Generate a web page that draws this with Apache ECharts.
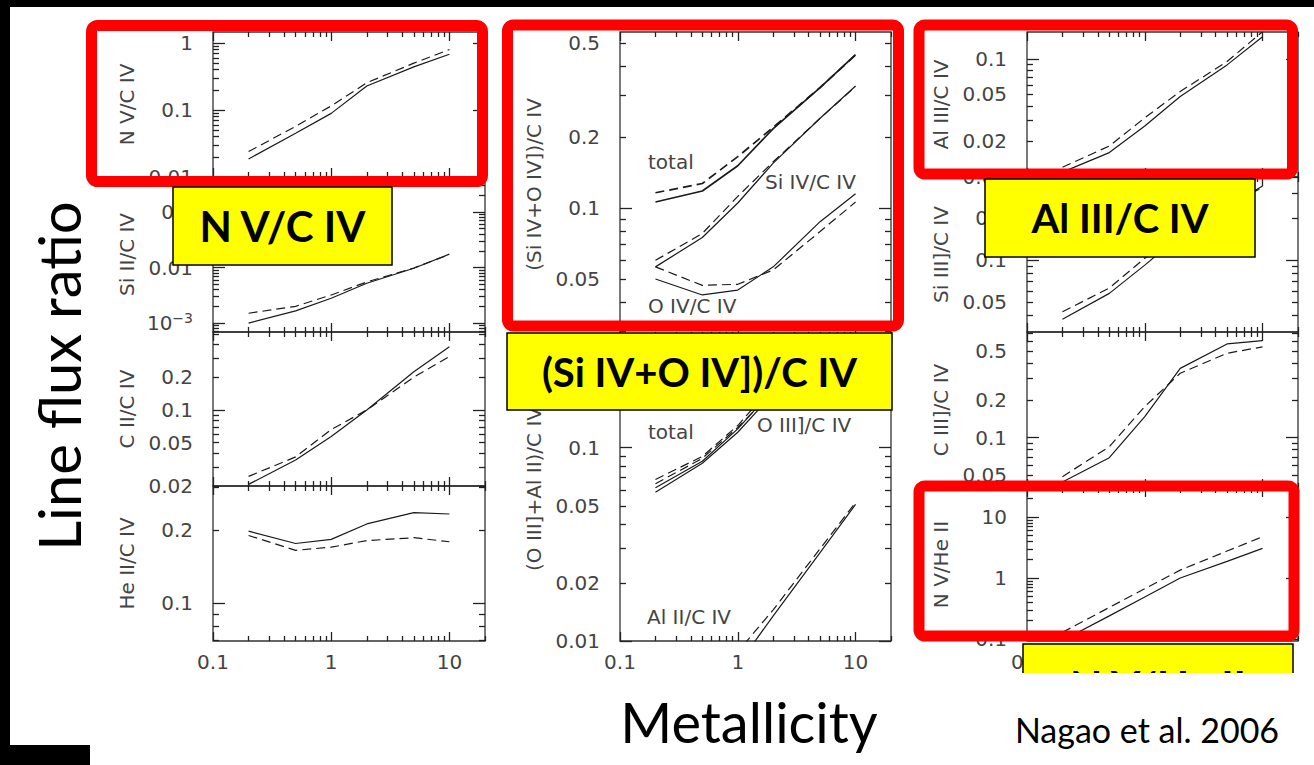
<!DOCTYPE html>
<html><head><meta charset="utf-8">
<script src="https://cdn.jsdelivr.net/npm/echarts@6/dist/echarts.min.js"></script>
<style>html,body{margin:0;padding:0;background:#fff}#c{width:1314px;height:765px}</style>
</head><body><div id="c"></div>
<script>
// ---------------- DATA ----------------
const metallicity = [0.2, 0.5, 1, 2, 5, 10];
const xTickLabels = [0.1, 1, 10];
const xTickLabelsHidden = [0.1];   // col 3: only "0.1" peeks out from behind the yellow box

// column 1
const nvCivSolid = [0.0186, 0.045, 0.089, 0.228, 0.44, 0.68];
const nvCivDashed = [0.024, 0.057, 0.115, 0.255, 0.5, 0.8];
const siiCivSolid = [0.001, 0.00166, 0.0028, 0.0052, 0.0097, 0.0174];
const siiCivDashed = [0.0015, 0.002, 0.0032, 0.0055, 0.0098, 0.0172];
const ciiCivSolid = [0.0207, 0.0347, 0.057, 0.1, 0.224, 0.38];
const ciiCivDashed = [0.0245, 0.037, 0.066, 0.1, 0.2, 0.31];
const heiiCivSolid = [0.198, 0.176, 0.183, 0.212, 0.236, 0.233];
const heiiCivDashed = [0.19, 0.165, 0.17, 0.181, 0.186, 0.179];
// column 2
const totalSiOSolid = [0.106, 0.118, 0.151, 0.217, 0.324, 0.447];
const totalSiODashed = [0.116, 0.127, 0.165, 0.22, 0.324, 0.445];
const sivCivSolid = [0.0563, 0.075, 0.105, 0.155, 0.24, 0.329];
const sivCivDashed = [0.06, 0.078, 0.112, 0.157, 0.24, 0.327];
const oivCivSolid = [0.05, 0.0428, 0.0449, 0.0563, 0.0875, 0.115];
const oivCivDashed = [0.0563, 0.047, 0.0475, 0.0546, 0.0795, 0.106];
const totalOAlSolid = [0.062, 0.085, 0.125, 0.2, 0.28, 0.34];
const totalOAlDashed = [0.0684, 0.09, 0.13, 0.21, 0.29, 0.35];
const oiiiCivSolid = [0.0588, 0.083, 0.12, 0.19, 0.25, 0.29];
const oiiiCivDashed = [0.065, 0.088, 0.127, 0.195, 0.26, 0.3];
const aliiCivSolid = [0.0008, 0.003, 0.0075, 0.0135, 0.0286, 0.0508];
const aliiCivDashed = [0.001, 0.0035, 0.0088, 0.0145, 0.03, 0.052];
// column 3
const aliiiCivSolid = [0.011, 0.0161, 0.027, 0.048, 0.089, 0.154];
const aliiiCivDashed = [0.0121, 0.0183, 0.0317, 0.053, 0.095, 0.17];
const siiiiCivSolid = [0.0376, 0.0577, 0.092, 0.15, 0.24, 0.34];
const siiiiCivDashed = [0.0426, 0.063, 0.103, 0.16, 0.25, 0.33];
const ciiiCivSolid = [0.044, 0.069, 0.148, 0.362, 0.57, 0.605];
const ciiiCivDashed = [0.0485, 0.0846, 0.178, 0.331, 0.479, 0.54];
const nvHeiiSolid = [0.095, 0.24, 0.49, 1.0, 1.88, 3.07];
const nvHeiiDashed = [0.129, 0.33, 0.67, 1.35, 2.77, 4.75];

// y tick labels
const nvCivTicks = [0.01, 0.1, 1];
const siiCivTicks = [0.001, 0.01, 0.1];
const ciiCivTicks = [0.02, 0.05, 0.1, 0.2];
const heiiCivTicks = [0.1, 0.2];
const sivOivTicks = [0.05, 0.1, 0.2, 0.5];
const oiiiAliiTicks = [0.01, 0.02, 0.05, 0.1, 0.2];
const aliiiCivTicks = [0.01, 0.02, 0.05, 0.1];
const siiiiCivTicks = [0.05, 0.1, 0.2];
const ciiiCivTicks = [0.05, 0.1, 0.2, 0.5];
const nvHeiiTicks = [0.1, 1, 10];

// ---------------- LAYOUT ----------------
const FONT = 'DejaVu Sans';
const AX = '#222222';
const LAB = '#444444';
const X_MIN = 0.1, X_MAX = 20;
const TICK = {yMajor: 12, yMinor: 6, xMajor: 9, xMinor: 5};
const panels = [
  {name:'N V/C IV', box:[213,32,272,145], yr:[0.01,1.46], labels:nvCivTicks, xl:[], lines:[nvCivSolid,nvCivDashed]},
  {name:'Si II/C IV', box:[213,177,272,155], yr:[0.00069,0.427], labels:siiCivTicks, xl:[], lines:[siiCivSolid,siiCivDashed]},
  {name:'C II/C IV', box:[213,332,272,154], yr:[0.02,0.52], labels:ciiCivTicks, xl:[], lines:[ciiCivSolid,ciiCivDashed]},
  {name:'He II/C IV', box:[213,486,272,155], yr:[0.0697,0.304], labels:heiiCivTicks, xl:xTickLabels, lines:[heiiCivSolid,heiiCivDashed]},
  {name:'(Si IV+O IV])/C IV', box:[620,32,271,305], yr:[0.0284,0.557], labels:sivOivTicks, xl:[],
    lines:[totalSiOSolid,totalSiODashed,sivCivSolid,sivCivDashed,oivCivSolid,oivCivDashed], thick:[1.7,1.7,1.2,1.2,1.2,1.2]},
  {name:'(O III]+Al II)/C IV', box:[620,337,271,304], yr:[0.01,0.373], labels:oiiiAliiTicks, xl:xTickLabels,
    lines:[totalOAlSolid,totalOAlDashed,oiiiCivSolid,oiiiCivDashed,aliiCivSolid,aliiCivDashed]},
  {name:'Al III/C IV', box:[1027,32,271,145], yr:[0.01,0.169], labels:aliiiCivTicks, xl:[], lines:[aliiiCivSolid,aliiiCivDashed]},
  {name:'Si III]/C IV', box:[1027,177,271,155], yr:[0.0305,0.394], labels:siiiiCivTicks, xl:[], lines:[siiiiCivSolid,siiiiCivDashed]},
  {name:'C III]/C IV', box:[1027,332,271,156], yr:[0.0393,0.711], labels:ciiiCivTicks, xl:[], lines:[ciiiCivSolid,ciiiCivDashed]},
  {name:'N V/He II', box:[1027,488,271,153], yr:[0.093,29.9], labels:nvHeiiTicks, xl:xTickLabelsHidden, lines:[nvHeiiSolid,nvHeiiDashed]}
];

function decadeTicks(min, max, major) {
  const out = [];
  for (let e = -5; e <= 3; e++) {
    for (let m = 1; m <= 9; m++) {
      if ((m === 1) !== major) continue;
      const v = Number((m * Math.pow(10, e)).toPrecision(6));
      if (v >= min * 0.9999 && v <= max * 1.0001) out.push(v);
    }
  }
  return out;
}
function fmt(v) {
  const s = Number((+v).toPrecision(4));
  if (Math.abs(s - 0.001) < 1e-12) return '{b|10}{s|\u22123}';
  return String(s);
}
const labelRich = {
  b: {fontFamily: FONT, fontSize: 20, color: LAB},
  s: {fontFamily: FONT, fontSize: 14, color: LAB, verticalAlign: 'top', padding: [0, 0, 10, 0]}
};

const grids = [], xAxes = [], yAxes = [], series = [];
const xExtra = [], yExtra = [];
function tickOnlyAxis(gi, min, max, pos, len, values) {
  return {
    type: 'log', gridIndex: gi, position: pos, min: min, max: max,
    axisLine: {show: false}, splitLine: {show: false},
    axisTick: {show: true, inside: true, length: len, customValues: values, lineStyle: {color: AX, width: 1.3}},
    axisLabel: {show: false}
  };
}
panels.forEach((p, gi) => {
  grids.push({left: p.box[0], top: p.box[1], width: p.box[2], height: p.box[3], show: true,
    borderColor: '#333333', borderWidth: 1.3});
  const xMaj = decadeTicks(X_MIN, X_MAX, true), xMin = decadeTicks(X_MIN, X_MAX, false);
  const yMaj = decadeTicks(p.yr[0], p.yr[1], true), yMin = decadeTicks(p.yr[0], p.yr[1], false);
  xAxes.push({
    type: 'log', gridIndex: gi, min: X_MIN, max: X_MAX,
    axisLine: {show: false}, splitLine: {show: false},
    axisTick: {show: true, inside: true, length: TICK.xMajor, customValues: xMaj, lineStyle: {color: AX, width: 1.3}},
    axisLabel: {show: p.xl.length > 0, customValues: p.xl.length ? p.xl : [X_MIN], margin: 11, fontFamily: FONT, fontSize: 20, color: LAB, formatter: fmt}
  });
  yAxes.push({
    type: 'log', gridIndex: gi, min: p.yr[0], max: p.yr[1],
    axisLine: {show: false}, splitLine: {show: false},
    axisTick: {show: true, inside: true, length: TICK.yMajor, customValues: yMaj, lineStyle: {color: AX, width: 1.3}},
    axisLabel: {show: true, customValues: p.labels, margin: 20, fontFamily: FONT, fontSize: 20, color: LAB, formatter: fmt, rich: labelRich},
    name: p.name, nameLocation: 'middle', nameGap: 76, nameRotate: 90, nameMoveOverlap: false,
    nameTextStyle: {fontFamily: FONT, fontSize: 20, color: LAB}
  });
  // extra tick-only axes: minor ticks and the mirrored top / right ticks
  xExtra.push(tickOnlyAxis(gi, X_MIN, X_MAX, 'bottom', TICK.xMinor, xMin));
  xExtra.push(tickOnlyAxis(gi, X_MIN, X_MAX, 'top', TICK.xMajor, xMaj));
  xExtra.push(tickOnlyAxis(gi, X_MIN, X_MAX, 'top', TICK.xMinor, xMin));
  yExtra.push(tickOnlyAxis(gi, p.yr[0], p.yr[1], 'left', TICK.yMinor, yMin));
  yExtra.push(tickOnlyAxis(gi, p.yr[0], p.yr[1], 'right', TICK.yMajor, yMaj));
  yExtra.push(tickOnlyAxis(gi, p.yr[0], p.yr[1], 'right', TICK.yMinor, yMin));
  p.lines.forEach((vals, i) => {
    series.push({
      type: 'line', xAxisIndex: gi, yAxisIndex: gi, symbol: 'none',
      data: metallicity.map((m, j) => [m, vals[j]]),
      lineStyle: {color: '#1a1a1a', width: p.thick ? p.thick[i] : 1.2, type: i % 2 === 0 ? 'solid' : [9, 5]}
    });
  });
});

// ---------------- OVERLAYS ----------------
function redBox(x0, y0, x1, y1) {
  return {type: 'rect', z: 200, shape: {x: x0, y: y0, width: x1 - x0, height: y1 - y0, r: 6},
    style: {fill: 'none', stroke: '#ff0000', lineWidth: 11}};
}
function yellowBox(x0, y0, x1, y1, text, fs, ty, lh) {
  return [
    {type: 'rect', z: 210, shape: {x: x0, y: y0, width: x1 - x0, height: y1 - y0},
      style: {fill: '#ffff00', stroke: '#000', lineWidth: 1.5}},
    {type: 'text', z: 211, style: {text: text, x: (x0 + x1) / 2, y: ty === undefined ? (y0 + y1) / 2 : ty,
      textAlign: 'center', textVerticalAlign: 'middle', fontFamily: 'Lato', fontWeight: 'bold', fontSize: fs,
      lineHeight: lh || fs * 1.2, fill: '#000'}}
  ];
}
function note(text, x, y) {
  return {type: 'text', z: 50, style: {text: text, x: x, y: y, textAlign: 'left', textVerticalAlign: 'middle',
    fontFamily: FONT, fontSize: 20, fill: LAB}};
}
const graphics = [
  note('total', 648, 162), note('Si IV/C IV', 765, 182), note('O IV/C IV', 648, 306),
  note('total', 648, 432), note('O III]/C IV', 757, 425), note('Al II/C IV', 647, 617),
  {type: 'rect', z: 190, shape: {x: 0, y: 0, width: 1314, height: 7}, style: {fill: '#000'}},
  {type: 'rect', z: 190, shape: {x: 0, y: 0, width: 10, height: 765}, style: {fill: '#000'}},
  {type: 'rect', z: 190, shape: {x: 0, y: 745, width: 90, height: 20}, style: {fill: '#000'}},
  redBox(91.5, 25.5, 482.5, 181.5),
  redBox(507.5, 25, 898.5, 326),
  redBox(919, 25, 1292.5, 174),
  redBox(919, 486, 1294, 636),
  ...yellowBox(173, 187, 392, 265, 'N V/C IV', 42),
  ...yellowBox(507, 333, 892, 410, '(Si IV+O IV])/C IV', 40),
  ...yellowBox(985, 179, 1255, 257, 'Al III/C IV', 40),
  ...yellowBox(1023, 644, 1293, 705, 'N V/He II', 42, 686, 30),
  {type: 'rect', z: 220, shape: {x: 1012, y: 673, width: 302, height: 38}, style: {fill: '#fff'}},
  {type: 'text', z: 230, rotation: Math.PI / 2, x: 58, y: 376, style: {text: 'Line flux ratio', x: 0, y: 0,
    textAlign: 'center', textVerticalAlign: 'middle', fontFamily: 'Lato', fontSize: 58, fill: '#000'}},
  {type: 'text', z: 230, style: {text: 'Metallicity', x: 749, y: 721, textAlign: 'center', textVerticalAlign: 'middle',
    fontFamily: 'Lato', fontSize: 56, fill: '#000'}},
  {type: 'text', z: 230, style: {text: 'Nagao et al. 2006', x: 1147, y: 729, textAlign: 'center', textVerticalAlign: 'middle',
    fontFamily: 'Lato', fontSize: 34, fill: '#000'}}
];

const chart = echarts.init(document.getElementById('c'), null, {renderer: 'svg', width: 1314, height: 765});
chart.setOption({
  animation: false,
  grid: grids,
  xAxis: xAxes.concat(xExtra),
  yAxis: yAxes.concat(yExtra),
  series: series,
  graphic: {elements: graphics}
});
</script></body></html>
